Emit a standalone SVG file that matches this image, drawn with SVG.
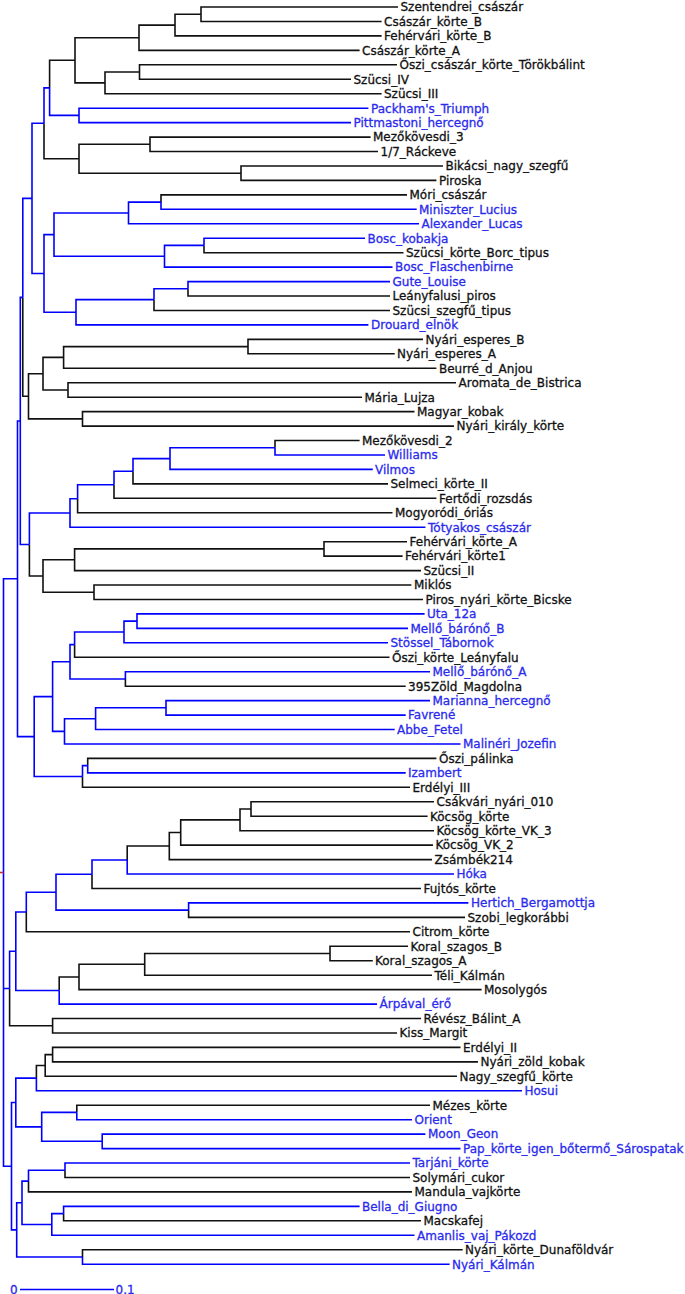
<svg xmlns="http://www.w3.org/2000/svg" width="685" height="1294" viewBox="0 0 685 1294">
<style>
.k{fill:none;stroke:#111;stroke-width:1.6}
.b{fill:none;stroke:#0000ff;stroke-width:1.6}
.r{fill:none;stroke:#c03030;stroke-width:1.6}
text{font-family:"DejaVu Sans","Liberation Sans",sans-serif;font-size:12px;fill:#111;stroke:#111;stroke-width:0.3}
.tb text{fill:#2a2aee;stroke:#2a2aee}
</style>
<rect width="685" height="1294" fill="#fff"/>
<g id="connectors">
<g class="k">
<path d="M201 14.2V7H398M201 14.2V21.5H381.6M175 25.1V14.2H201M175 25.1V35.9H381.6M139 37.7V25.1H175M139 37.7V50.4H359.6M139.5 72V64.8H397M139.5 72V79.3H351M105 82.9V72H139.5M105 82.9V93.7H381.6M75 60.3V37.7H139M75 60.3V82.9H105M49.6 87.9V60.3H75"/>
<path d="M150 144.3V137.1H370.6M150 144.3V151.5H378M241 173.2V166H443M241 173.2V180.4H436.4M79 158.8V144.3H150M79 158.8V173.2H241M44 123.3V158.8H79"/>
<path d="M161 202.1V194.9H407M204 245.4V252.7H403.5M188 288.8V296H390M154 299.6V310.5H390"/>
<path d="M248 346.6V339.4H423M248 346.6V353.8H394.7M63.6 357.4V346.6H248M63.6 357.4V368.3H436.4M68 390V382.7H456M68 390V397.2H362M43 373.7V357.4H63.6M43 373.7V390H68M82.5 418.9V411.6H414.5M82.5 418.9V426.1H454M28.5 396.3V373.7H43M28.5 396.3V418.9H82.5M22.8 297.4V396.3H28.5"/>
<path d="M275 447.8V440.5H359.6M133 471.3V483.9H388M114 484.8V498.3H436.4M77.6 498.8V512.8H392.5"/>
<path d="M324 548.9V541.7H407M324 548.9V556.1H402.6M74.6 559.8V548.9H324M74.6 559.8V570.6H421M94 592.3V585H411.4M94 592.3V599.5H423M43 576V559.8H74.6M43 576V592.3H94M29.4 544.5V576H43"/>
<path d="M74.6 644.6V657.3H389.5M125.4 679V686.2H405.7M87.7 765.6V758.4H436.4M82.5 776.5V787.3H410"/>
<path d="M251 809V801.8H434M251 809V816.2H427.6M240 819.9V809H251M240 819.9V830.7H434M180.7 832.5V819.9H240M180.7 832.5V845.1H433M169.3 846V832.5H180.7M169.3 846V859.6H432M127.2 860V846H169.3M92 874.2V888.5H421M188.6 910.1V917.4H465M26.3 912V931.8H410"/>
<path d="M330 953.5V946.3H408M330 953.5V960.7H372.8M144.7 964.3V953.5H330M144.7 964.3V975.2H432M79 977V964.3H144.7M79 977V989.6H481.6M59.2 990.5V977H79"/>
<path d="M52.6 1025.8V1018.5H421M52.6 1025.8V1033H397M9.6 988.5V1025.8H52.6"/>
<path d="M52.6 1054.6V1047.4H460.5M52.6 1054.6V1061.9H478M45.2 1065.5V1054.6H52.6M45.2 1065.5V1076.3H457M36.4 1078.1V1065.5H45.2M76.8 1112.4V1105.2H430"/>
<path d="M65 1170.2V1177.5H410M28.5 1181.1V1191.9H412M63.6 1213.6V1220.8H421M82.5 1257V1249.7H462.7"/>
</g>
<g class="b">
<path d="M79 115.4V108.2H368.4M79 115.4V122.6H351M49.6 87.9V115.4H79M44 123.3V87.9H49.6"/>
<path d="M161 202.1V209.3H416.7M128.5 213V202.1H161M128.5 213V223.8H419M204 245.4V238.2H365M164.5 256.3V245.4H204M164.5 256.3V267.1H392.5M54 234.6V213H128.5M54 234.6V256.3H164.5"/>
<path d="M188 288.8V281.6H390M154 299.6V288.8H188M76 312.3V299.6H154M76 312.3V324.9H368.4M44 273.5V234.6H54M44 273.5V312.3H76M32 198.4V123.3H44M32 198.4V273.5H44M22.8 297.4V198.4H32"/>
<path d="M275 447.8V455H385M170 458.6V447.8H275M170 458.6V469.4H372.8M133 471.3V458.6H170M114 484.8V471.3H133M77.6 498.8V484.8H114M70 513V498.8H77.6M70 513V527.2H425.4M29.4 544.5V513H70M20.3 421V297.4H22.8M20.3 421V544.5H29.4"/>
<path d="M137 621.1V613.9H424.6M137 621.1V628.4H408M124 632V621.1H137M124 632V642.8H388M74.6 644.6V632H124M125.4 679V671.7H430M70 661.8V644.6H74.6M70 661.8V679H125.4"/>
<path d="M166 707.8V700.6H430M166 707.8V715.1H405.7M95.6 718.7V707.8H166M95.6 718.7V729.5H394.7M64.5 731.4V718.7H95.6M64.5 731.4V744H460.5M52.6 696.6V661.8H70M52.6 696.6V731.4H64.5"/>
<path d="M87.7 765.6V772.9H405.7M82.5 776.5V765.6H87.7M34.2 736.6V696.6H52.6M34.2 736.6V776.5H82.5M17.5 578.8V421H20.3M17.5 578.8V736.6H34.2"/>
<path d="M127.2 860V874H454M92 874.2V860H127.2M188.6 910.1V902.9H468.4M56 892.2V874.2H92M56 892.2V910.1H188.6M26.3 912V892.2H56"/>
<path d="M59.2 990.5V1004.1H377M15.8 951.3V912H26.3M15.8 951.3V990.5H59.2M9.6 988.5V951.3H15.8"/>
<path d="M36.4 1078.1V1090.8H522M76.8 1112.4V1119.7H412M102.2 1141.3V1134.1H425.4M102.2 1141.3V1148.6H460.5M41.7 1126.9V1112.4H76.8M41.7 1126.9V1141.3H102.2M15.8 1102.5V1078.1H36.4M15.8 1102.5V1126.9H41.7"/>
<path d="M65 1170.2V1163H410M28.5 1181.1V1170.2H65M63.6 1213.6V1206.4H359.6M51.8 1224.5V1213.6H63.6M51.8 1224.5V1235.3H414.5M22 1202.8V1181.1H28.5M22 1202.8V1224.5H51.8M82.5 1257V1264.2H449.6M16.7 1229.9V1202.8H22M16.7 1229.9V1257H82.5M11.5 1166.2V1102.5H15.8M11.5 1166.2V1229.9H16.7"/>
<path d="M3.5 872.5V578.8H17.5M3.5 872.5V988.5H9.6M3.5 872.5V1166.2H11.5"/>
</g>
<path class="r" d="M0 872.5H3.5"/>
</g>
<g id="n1"><text x="400.5" y="11.3">Szentendrei_császár</text></g>
<g id="n2"><text x="384" y="25.8">Császár_körte_B</text></g>
<g id="n3"><text x="384" y="40.2">Fehérvári_körte_B</text></g>
<g id="n4"><text x="362" y="54.7">Császár_körte_A</text></g>
<g id="n5"><text x="399.5" y="69.1">Őszi_császár_körte_Törökbálint</text></g>
<g id="n6"><text x="353.5" y="83.6">Szücsi_IV</text></g>
<g id="n7"><text x="384" y="98">Szücsi_III</text></g>
<g id="n8" class="tb"><text x="371" y="112.5">Packham's_Triumph</text></g>
<g id="n9" class="tb"><text x="353.5" y="126.9">Pittmastoni_hercegnő</text></g>
<g id="n10"><text x="373" y="141.4">Mezőkövesdi_3</text></g>
<g id="n11"><text x="380.5" y="155.8">1/7_Ráckeve</text></g>
<g id="n12"><text x="445.5" y="170.3">Bikácsi_nagy_szegfű</text></g>
<g id="n13"><text x="439" y="184.7">Piroska</text></g>
<g id="n14"><text x="409.5" y="199.2">Móri_császár</text></g>
<g id="n15" class="tb"><text x="419" y="213.6">Miniszter_Lucius</text></g>
<g id="n16" class="tb"><text x="421.5" y="228.1">Alexander_Lucas</text></g>
<g id="n17" class="tb"><text x="367.5" y="242.5">Bosc_kobakja</text></g>
<g id="n18"><text x="406" y="257">Szücsi_körte_Borc_tipus</text></g>
<g id="n19" class="tb"><text x="395" y="271.4">Bosc_Flaschenbirne</text></g>
<g id="n20" class="tb"><text x="392.5" y="285.9">Gute_Louise</text></g>
<g id="n21"><text x="392.5" y="300.3">Leányfalusi_piros</text></g>
<g id="n22"><text x="392.5" y="314.8">Szücsi_szegfű_tipus</text></g>
<g id="n23" class="tb"><text x="371" y="329.2">Drouard_elnök</text></g>
<g id="n24"><text x="425.5" y="343.7">Nyári_esperes_B</text></g>
<g id="n25"><text x="397" y="358.1">Nyári_esperes_A</text></g>
<g id="n26"><text x="439" y="372.6">Beurré_d_Anjou</text></g>
<g id="n27"><text x="458.5" y="387">Aromata_de_Bistrica</text></g>
<g id="n28"><text x="364.5" y="401.5">Mária_Lujza</text></g>
<g id="n29"><text x="417" y="415.9">Magyar_kobak</text></g>
<g id="n30"><text x="456.5" y="430.4">Nyári_király_körte</text></g>
<g id="n31"><text x="362" y="444.8">Mezőkövesdi_2</text></g>
<g id="n32" class="tb"><text x="387.5" y="459.3">Williams</text></g>
<g id="n33" class="tb"><text x="375" y="473.7">Vilmos</text></g>
<g id="n34"><text x="390.5" y="488.2">Selmeci_körte_II</text></g>
<g id="n35"><text x="439" y="502.6">Fertődi_rozsdás</text></g>
<g id="n36"><text x="395" y="517.1">Mogyoródi_óriás</text></g>
<g id="n37" class="tb"><text x="428" y="531.5">Tótyakos_császár</text></g>
<g id="n38"><text x="409.5" y="546">Fehérvári_körte_A</text></g>
<g id="n39"><text x="405" y="560.4">Fehérvári_körte1</text></g>
<g id="n40"><text x="423.5" y="574.9">Szücsi_II</text></g>
<g id="n41"><text x="414" y="589.3">Miklós</text></g>
<g id="n42"><text x="425.5" y="603.8">Piros_nyári_körte_Bicske</text></g>
<g id="n43" class="tb"><text x="427" y="618.2">Uta_12a</text></g>
<g id="n44" class="tb"><text x="410.5" y="632.7">Mellő_bárónő_B</text></g>
<g id="n45" class="tb"><text x="390.5" y="647.1">Stössel_Tábornok</text></g>
<g id="n46"><text x="392" y="661.6">Őszi_körte_Leányfalu</text></g>
<g id="n47" class="tb"><text x="432.5" y="676">Mellő_bárónő_A</text></g>
<g id="n48"><text x="408" y="690.5">395Zöld_Magdolna</text></g>
<g id="n49" class="tb"><text x="432.5" y="704.9">Marianna_hercegnő</text></g>
<g id="n50" class="tb"><text x="408" y="719.4">Favrené</text></g>
<g id="n51" class="tb"><text x="397" y="733.8">Abbe_Fetel</text></g>
<g id="n52" class="tb"><text x="463" y="748.3">Malinéri_Jozefin</text></g>
<g id="n53"><text x="439" y="762.7">Őszi_pálinka</text></g>
<g id="n54" class="tb"><text x="408" y="777.2">Izambert</text></g>
<g id="n55"><text x="412.5" y="791.6">Erdélyi_III</text></g>
<g id="n56"><text x="436.5" y="806.1">Csákvári_nyári_010</text></g>
<g id="n57"><text x="430" y="820.5">Köcsög_körte</text></g>
<g id="n58"><text x="436.5" y="835">Köcsög_körte_VK_3</text></g>
<g id="n59"><text x="435.5" y="849.4">Köcsög_VK_2</text></g>
<g id="n60"><text x="434.5" y="863.9">Zsámbék214</text></g>
<g id="n61" class="tb"><text x="456.5" y="878.3">Hóka</text></g>
<g id="n62"><text x="423.5" y="892.8">Fujtós_körte</text></g>
<g id="n63" class="tb"><text x="471" y="907.2">Hertich_Bergamottja</text></g>
<g id="n64"><text x="467.5" y="921.7">Szobi_legkorábbi</text></g>
<g id="n65"><text x="412.5" y="936.1">Citrom_körte</text></g>
<g id="n66"><text x="410.5" y="950.6">Koral_szagos_B</text></g>
<g id="n67"><text x="375" y="965">Koral_szagos_A</text></g>
<g id="n68"><text x="434.5" y="979.5">Téli_Kálmán</text></g>
<g id="n69"><text x="484" y="993.9">Mosolygós</text></g>
<g id="n70" class="tb"><text x="379.5" y="1008.4">Árpával_érő</text></g>
<g id="n71"><text x="423.5" y="1022.8">Révész_Bálint_A</text></g>
<g id="n72"><text x="399.5" y="1037.3">Kiss_Margit</text></g>
<g id="n73"><text x="463" y="1051.7">Erdélyi_II</text></g>
<g id="n74"><text x="480.5" y="1066.2">Nyári_zöld_kobak</text></g>
<g id="n75"><text x="459.5" y="1080.6">Nagy_szegfű_körte</text></g>
<g id="n76" class="tb"><text x="524.5" y="1095.1">Hosui</text></g>
<g id="n77"><text x="432.5" y="1109.5">Mézes_körte</text></g>
<g id="n78" class="tb"><text x="414.5" y="1124">Orient</text></g>
<g id="n79" class="tb"><text x="428" y="1138.4">Moon_Geon</text></g>
<g id="n80" class="tb"><text x="463" y="1152.9">Pap_körte_igen_bőtermő_Sárospatak</text></g>
<g id="n81" class="tb"><text x="412.5" y="1167.3">Tarjáni_körte</text></g>
<g id="n82"><text x="412.5" y="1181.8">Solymári_cukor</text></g>
<g id="n83"><text x="414.5" y="1196.2">Mandula_vajkörte</text></g>
<g id="n84" class="tb"><text x="362" y="1210.7">Bella_di_Giugno</text></g>
<g id="n85"><text x="423.5" y="1225.1">Macskafej</text></g>
<g id="n86" class="tb"><text x="417" y="1239.6">Amanlis_vaj_Pákozd</text></g>
<g id="n87"><text x="465" y="1254">Nyári_körte_Dunaföldvár</text></g>
<g id="n88" class="tb"><text x="452" y="1268.5">Nyári_Kálmán</text></g>
<g id="scalebar" class="tb">
<path class="b" d="M20 1289.5H114"/>
<text x="10" y="1293.5">0</text>
<text x="115.5" y="1293.5">0.1</text>
</g>
</svg>
